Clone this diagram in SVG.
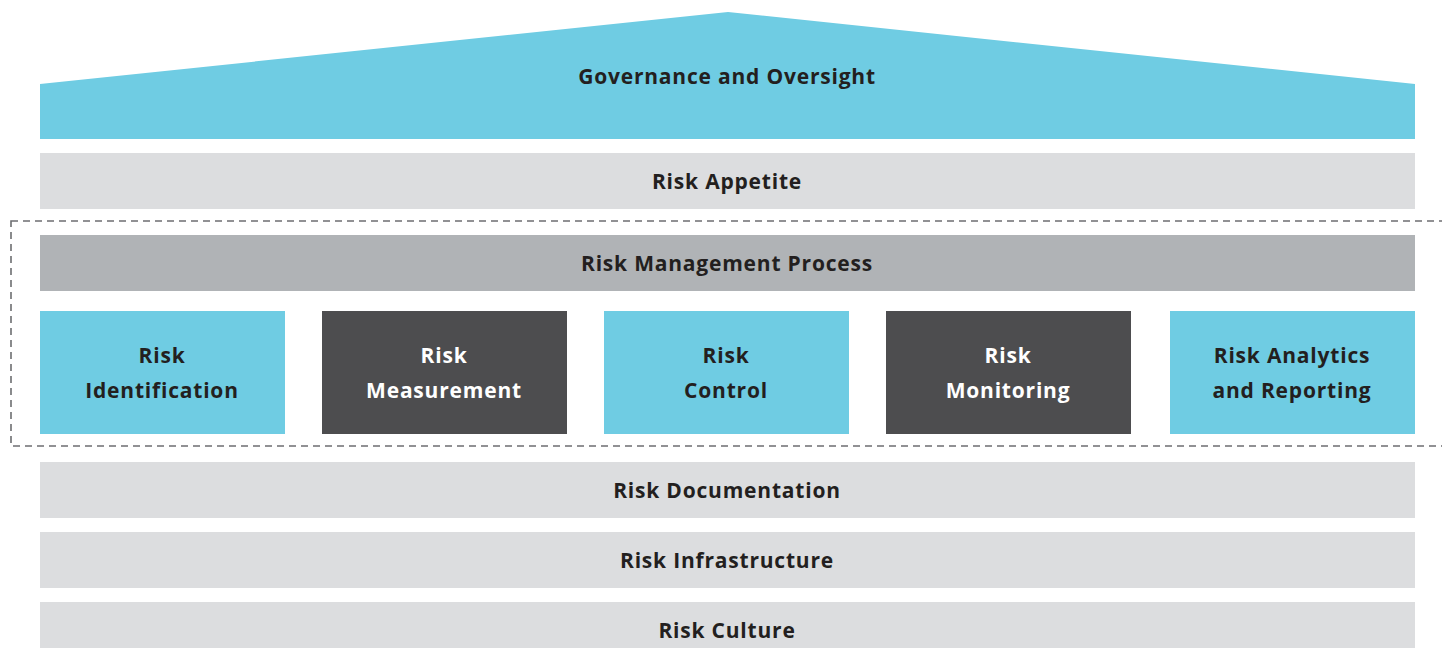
<svg xmlns="http://www.w3.org/2000/svg" width="1442" height="648" viewBox="0 0 1442 648">
<style>
.cy{fill:#6fcce3}
.lg{fill:#dcdddf}
.mg{fill:#b0b3b6}
.dk{fill:#4d4d4f}
text{font-family:"Open Sans","Liberation Sans",sans-serif;font-weight:700;font-size:21px;text-anchor:middle;fill:#231f20;letter-spacing:0.8px}
text.w{fill:#ffffff}
</style>
<rect width="1442" height="648" fill="#ffffff"/>
<g id="connectors">
<rect x="11" y="221" width="1440" height="225" fill="none" stroke="#6d6e71" stroke-width="1.6" stroke-dasharray="7,5"/>
</g>
<g id="governance">
<polygon class="cy" points="40,84 728,12 1415,84 1415,139 40,139"/>
<text x="727" y="84">Governance and Oversight</text>
</g>
<g id="appetite">
<rect class="lg" x="40" y="153" width="1375" height="56"/>
<text x="727" y="189">Risk Appetite</text>
</g>
<g id="process">
<rect class="mg" x="40" y="235" width="1375" height="56"/>
<text x="727" y="271">Risk Management Process</text>
</g>
<g id="identification">
<rect class="cy" x="40" y="311" width="245" height="123"/>
<text x="162" y="363">Risk</text>
<text x="162" y="398">Identification</text>
</g>
<g id="measurement">
<rect class="dk" x="322" y="311" width="245" height="123"/>
<text class="w" x="444" y="363">Risk</text>
<text class="w" x="444" y="398">Measurement</text>
</g>
<g id="control">
<rect class="cy" x="604" y="311" width="245" height="123"/>
<text x="726" y="363">Risk</text>
<text x="726" y="398">Control</text>
</g>
<g id="monitoring">
<rect class="dk" x="886" y="311" width="245" height="123"/>
<text class="w" x="1008" y="363">Risk</text>
<text class="w" x="1008" y="398">Monitoring</text>
</g>
<g id="analytics">
<rect class="cy" x="1170" y="311" width="245" height="123"/>
<text x="1292" y="363">Risk Analytics</text>
<text x="1292" y="398">and Reporting</text>
</g>
<g id="documentation">
<rect class="lg" x="40" y="462" width="1375" height="56"/>
<text x="727" y="498">Risk Documentation</text>
</g>
<g id="infrastructure">
<rect class="lg" x="40" y="532" width="1375" height="56"/>
<text x="727" y="568">Risk Infrastructure</text>
</g>
<g id="culture">
<rect class="lg" x="40" y="602" width="1375" height="56"/>
<text x="727" y="638">Risk Culture</text>
</g>
</svg>
